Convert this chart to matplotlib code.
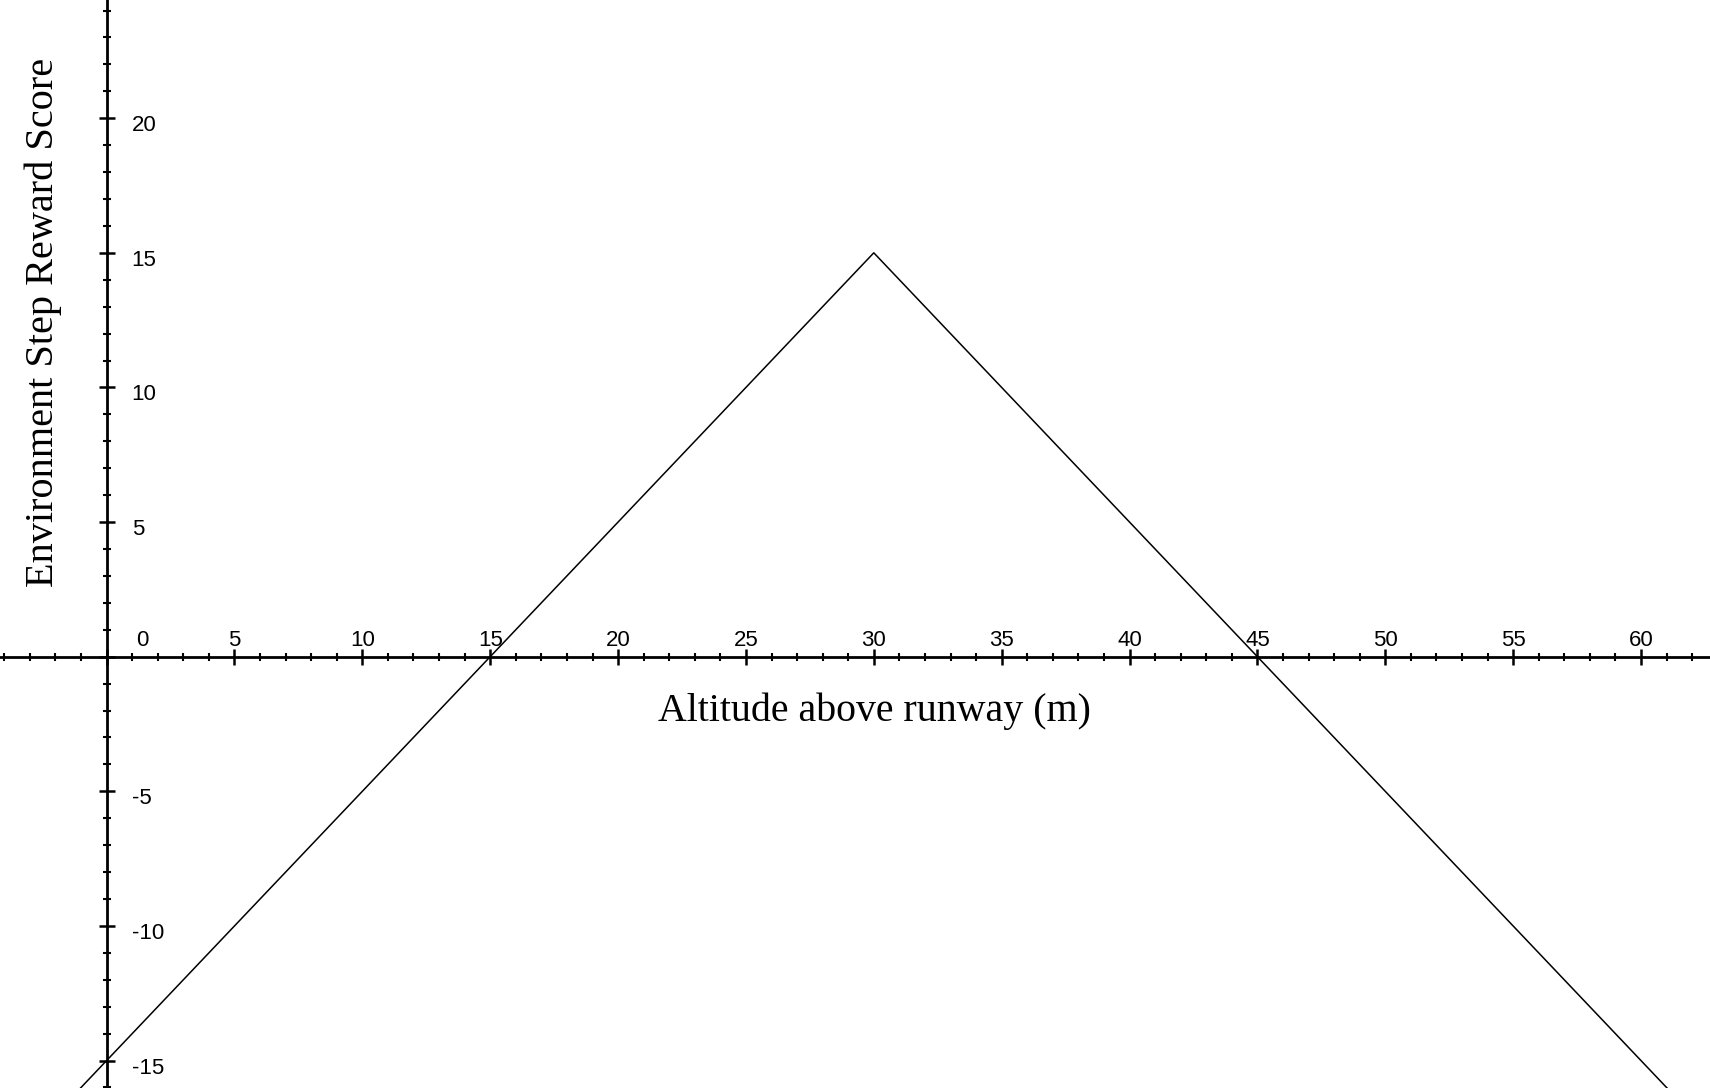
import numpy as np
import matplotlib.pyplot as plt

# reward shaping: peak at 30 m, falls off linearly on both sides
altitude = [-5, 30, 65]
reward = [-20, 15, -20]

x_labels = list(range(0, 65, 5))
y_labels = [-15, -10, -5, 5, 10, 15, 20]

fig = plt.figure(figsize=(17.1, 10.88), dpi=100)
ax = fig.add_axes([0, 0, 1, 1])

ax.plot(altitude, reward, color='black', lw=1.1)

ax.set_xlim(-4.17, 62.7)
ax.set_ylim(-16.02, 24.39)

# axes through the origin
for side in ['top', 'right']:
    ax.spines[side].set_visible(False)
for side in ['left', 'bottom']:
    ax.spines[side].set_position(('data', 0))
    ax.spines[side].set_linewidth(2.0)

ax.set_xticks(x_labels)
ax.set_xticks(np.arange(-4, 63, 1), minor=True)
ax.set_yticks([-15, -10, -5, 0, 5, 10, 15, 20])
ax.set_yticks(np.arange(-16, 25, 1), minor=True)
ax.tick_params(which='major', direction='inout', length=11, width=1.8,
               labelbottom=False, labelleft=False)
ax.tick_params(which='minor', direction='inout', length=6, width=1.5)

# tick labels sit above the x axis and right of the y axis
for v in x_labels:
    dx = 36 if v == 0 else 0
    ax.annotate(str(v), (v, 0), xytext=(dx, 11), textcoords='offset pixels',
                ha='center', va='baseline', fontsize=16,
                family='Liberation Sans')
for v in y_labels:
    ax.annotate(str(v), (0, v), xytext=(25, -13), textcoords='offset pixels',
                ha='left', va='baseline', fontsize=16,
                family='Liberation Sans')

fig.text(874 / 1710, 1 - 711 / 1088, 'Altitude above runway (m)',
         ha='center', va='center', fontsize=28.7, family='Liberation Serif')
fig.text(43 / 1710, 1 - 322 / 1088, 'Environment Step Reward Score',
         ha='center', va='center', rotation=90, fontsize=29,
         family='Liberation Serif')

fig.savefig('out.png', dpi=100)
